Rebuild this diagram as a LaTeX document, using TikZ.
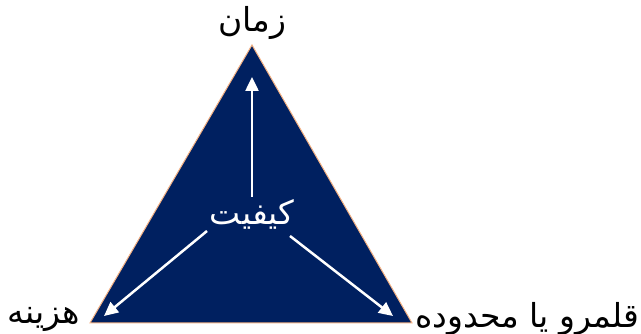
\documentclass[tikz,border=0pt]{standalone}
\usepackage{fontspec}
\newfontfamily\arabicfont[Script=Arabic]{DejaVu Sans}
\TeXXeTstate=1
\definecolor{navy}{HTML}{002060}
\definecolor{peach}{HTML}{F4B183}
\tikzset{
  farsi/.style={font=\arabicfont\fontsize{33}{38}\selectfont, inner sep=0pt},
  whitearrow/.style={draw=white, line width=2.5pt, -{Triangle[length=14pt,width=13pt]}}
}
\usetikzlibrary{arrows.meta}
\begin{document}
\begin{tikzpicture}[x=1pt,y=-1pt]
  \useasboundingbox (0,0) rectangle (641,334);
  \coordinate (top) at (252,45);
  \coordinate (left) at (90,323);
  \coordinate (right) at (412,323);
  \fill[navy, draw=peach, line width=1pt] (top) -- (right) -- (left) -- cycle;
  \node[farsi, white] (quality) at (252,214) {\beginR کیفیت\endR};
  \coordinate (up) at (252,77);
  \coordinate (downleft) at (104,316);
  \coordinate (downright) at (393,316);
  \draw[whitearrow] (252,197) -- (up);
  \draw[whitearrow] (207,231) -- (downleft);
  \draw[whitearrow] (290,236) -- (downright);
  \node[farsi] (time) at (252,23) {\beginR زمان\endR};
  \node[farsi, anchor=east] (cost) at (80,319) {\beginR هزینه\endR};
  \node[farsi, anchor=west] (scope) at (415,319) {\beginR قلمرو یا محدوده\endR};
\end{tikzpicture}
\end{document}
